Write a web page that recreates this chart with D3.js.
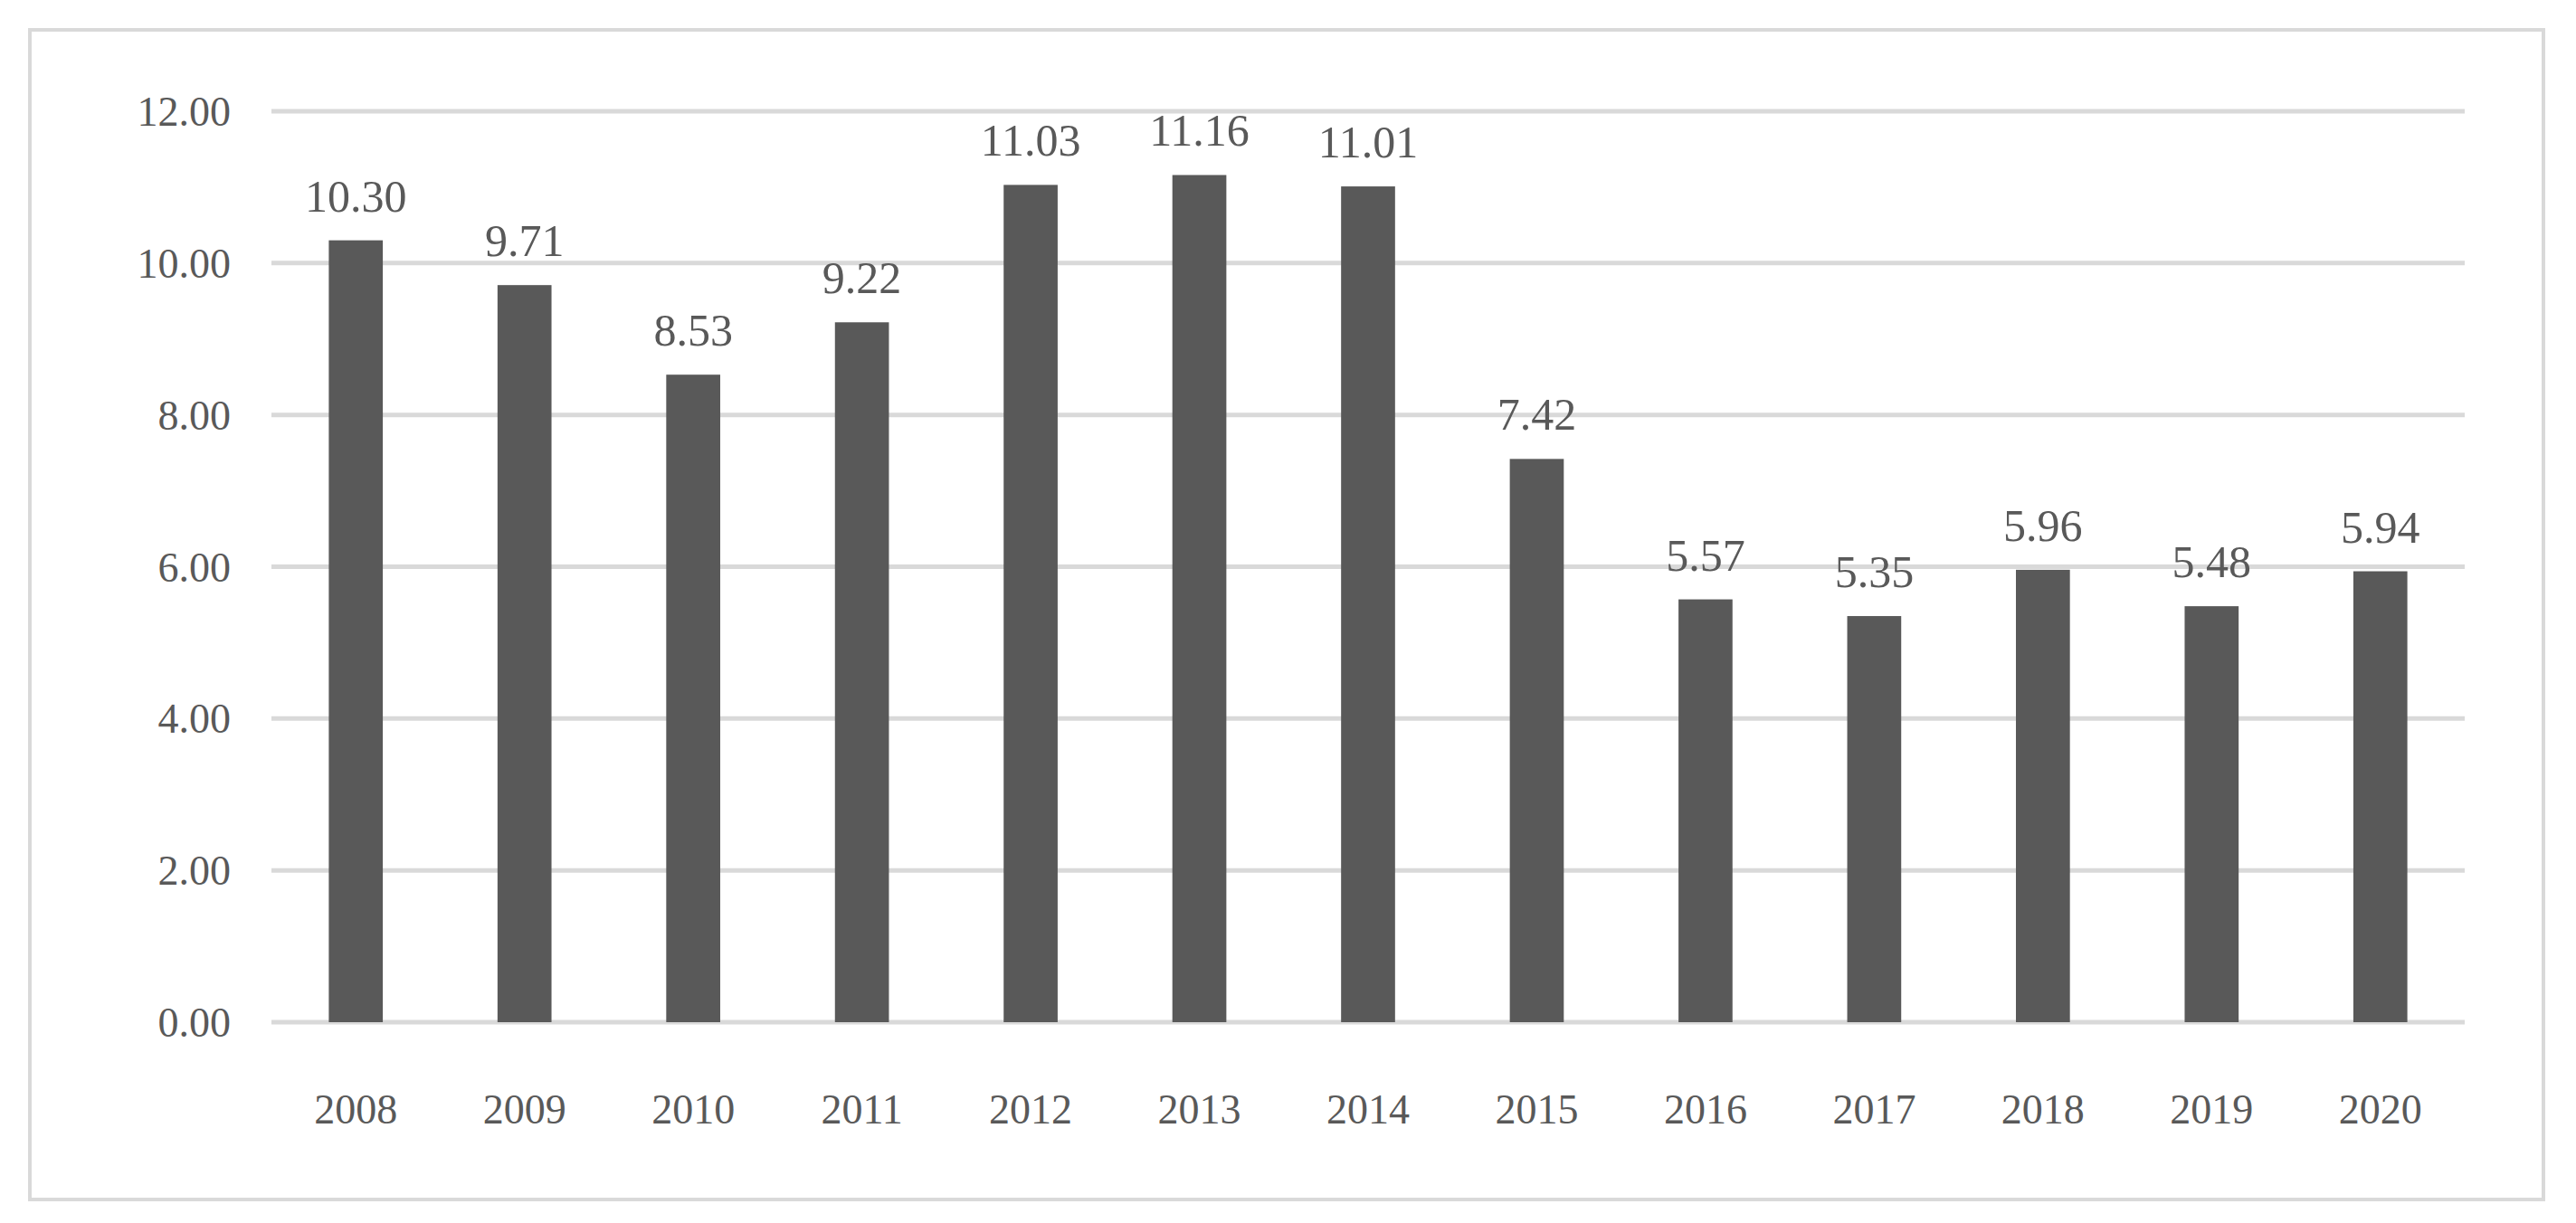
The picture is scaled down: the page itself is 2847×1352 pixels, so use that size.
<!DOCTYPE html>
<html><head><meta charset="utf-8">
<script src="https://d3js.org/d3.v7.min.js"></script>
<style>body{margin:0;background:#fff}</style></head>
<body><svg id="c" width="2847" height="1352"></svg>
<script>
const years=["2008","2009","2010","2011","2012","2013","2014","2015","2016","2017","2018","2019","2020"];
const values=[10.30,9.71,8.53,9.22,11.03,11.16,11.01,7.42,5.57,5.35,5.96,5.48,5.94];
const yTicks=[0,2,4,6,8,10,12];
const svg=d3.select("#c");
const font="'Liberation Serif','DejaVu Serif',serif";
svg.append("rect").attr("x",33).attr("y",33).attr("width",2778).attr("height",1293).attr("fill","#fff").attr("stroke","#d9d9d9").attr("stroke-width",4);
const x=d3.scaleBand().domain(years).range([300,2724]).paddingInner(0.68).paddingOuter(0.34);
const y=d3.scaleLinear().domain([0,12]).range([1130,123]);
svg.append("g").selectAll("line").data(yTicks).join("line")
 .attr("x1",300).attr("x2",2724).attr("y1",d=>y(d)).attr("y2",d=>y(d))
 .attr("stroke","#d9d9d9").attr("stroke-width",5);
svg.append("g").selectAll("text").data(yTicks).join("text")
 .attr("x",255).attr("y",d=>y(d)).attr("dy","0.35em").attr("text-anchor","end")
 .attr("font-family",font).attr("font-size",46).attr("fill","#595959").text(d=>d.toFixed(2));
svg.append("g").selectAll("rect").data(values).join("rect")
 .attr("x",(d,i)=>x(years[i])).attr("width",x.bandwidth())
 .attr("y",d=>y(d)).attr("height",d=>y(0)-y(d)).attr("fill","#595959");
svg.append("g").selectAll("text").data(values).join("text")
 .attr("x",(d,i)=>x(years[i])+x.bandwidth()/2).attr("y",d=>y(d)-32).attr("text-anchor","middle")
 .attr("font-family",font).attr("font-size",50).attr("fill","#595959").text(d=>d.toFixed(2));
svg.append("g").selectAll("text").data(years).join("text")
 .attr("x",d=>x(d)+x.bandwidth()/2).attr("y",1242).attr("text-anchor","middle")
 .attr("font-family",font).attr("font-size",46).attr("fill","#595959").text(d=>d);
</script></body></html>
